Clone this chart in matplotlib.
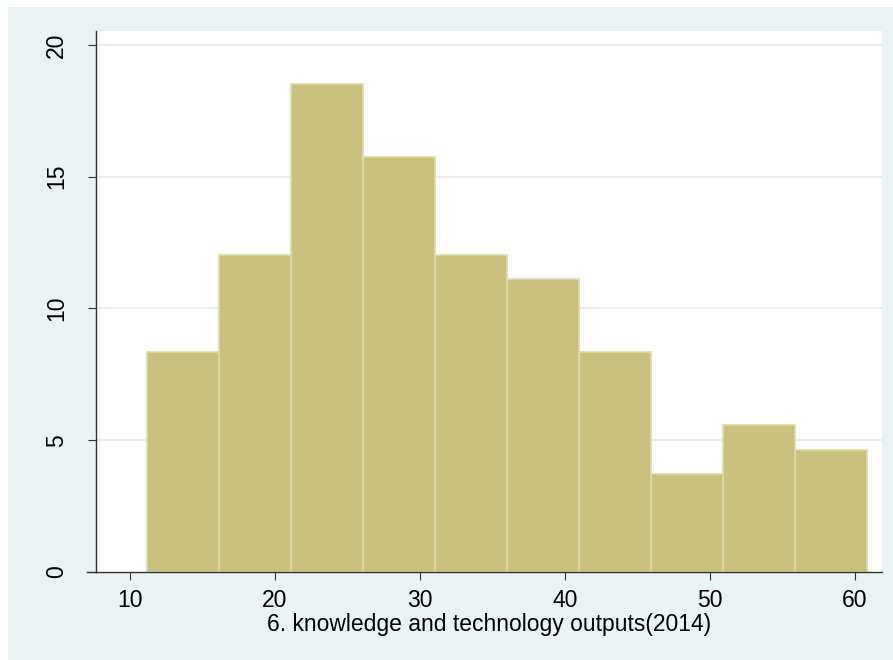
import matplotlib.pyplot as plt
from matplotlib.patches import Rectangle

plt.rcParams['font.family'] = ['Liberation Sans', 'DejaVu Sans']

# histogram data (percent), 10 bins
bin_start = 11.15
bin_width = 4.97
percents = [8.33, 12.04, 18.52, 15.74, 12.04, 11.11, 8.33, 3.70, 5.56, 4.63]
xticks = [10, 20, 30, 40, 50, 60]
yticks = [0, 5, 10, 15, 20]

bg = '#EAF2F3'
fig = plt.figure(figsize=(8.93, 6.6), dpi=100, facecolor='white')
fig.patches.append(Rectangle((8 / 893, 0), 1, 1 - 7 / 660, transform=fig.transFigure,
                             facecolor=bg, edgecolor='none', zorder=-10))

ax = fig.add_axes([96 / 893, 1 - 572 / 660, (882 - 96) / 893, (572 - 31) / 660])
ax.set_facecolor('white')

lefts = [bin_start + i * bin_width for i in range(len(percents))]
ax.bar(lefts, percents, width=bin_width, align='edge', color='#C9C27F',
       edgecolor='#DEDAA8', linewidth=1.2, zorder=2)

ax.set_xlim(7.66, 61.86)
ax.set_ylim(0, 20.53)
ax.set_xticks(xticks)
ax.set_yticks(yticks)
ax.set_yticklabels([str(v) for v in yticks], rotation=90, va='center')
for v in yticks[1:]:
    ax.axhline(v, color='#E6EFF1', linewidth=1.5, zorder=1)

for s in ['top', 'right']:
    ax.spines[s].set_visible(False)
for s in ['left', 'bottom']:
    ax.spines[s].set_color('#333333')
    ax.spines[s].set_linewidth(1.0)
ax.plot([-0.012, 0], [0, 0], transform=ax.transAxes, color='#333333', lw=1.0, clip_on=False)

ax.tick_params(axis='both', direction='out', length=6, width=0.8, color='#333333',
               labelsize=16.5)
ax.tick_params(axis='x', pad=6)
ax.tick_params(axis='y', pad=14)
ax.set_xlabel('6. knowledge and technology outputs(2014)', fontsize=16.5, labelpad=1)

fig.savefig('out.png', dpi=100, facecolor='white')
